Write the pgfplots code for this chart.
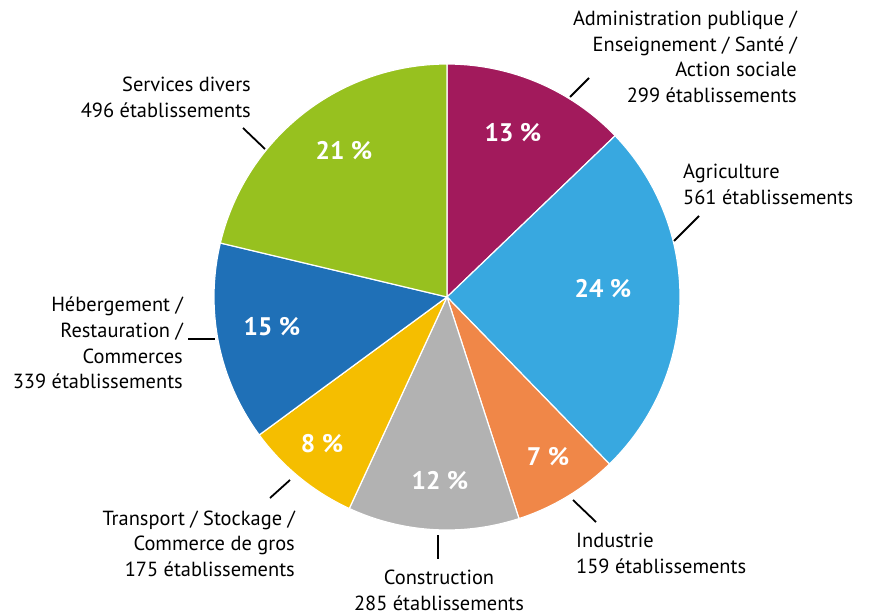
\documentclass[border=0pt]{standalone}
\usepackage{pgfplots}
\usepackage{pgfplotstable}
\pgfplotsset{compat=1.18}
\usepackage{fontspec}
\setmainfont{PT Sans}
\definecolor{cA}{RGB}{162,26,92}
\definecolor{cB}{RGB}{56,168,224}
\definecolor{cC}{RGB}{240,135,72}
\definecolor{cD}{RGB}{178,178,178}
\definecolor{cE}{RGB}{245,190,0}
\definecolor{cF}{RGB}{31,112,183}
\definecolor{cG}{RGB}{151,193,31}
% count = establishments (labels); share = slice size in degrees as drawn
\pgfplotstableread{
count share color
299 46.2 cA
561 89.6 cB
159 26.2 cC
285 42.8 cD
175 28.9 cE
339 49.7 cF
496 76.6 cG
}\piedata
\begin{document}
\begin{tikzpicture}
\begin{axis}[
  scale only axis, width=869bp, height=616bp,
  xmin=0, xmax=869, ymin=0, ymax=616, y dir=reverse,
  hide axis, clip=false,
]
\path (axis cs:0,0) rectangle (axis cs:869,616);
% total
\def\total{0}
\pgfplotsforeachungrouped \i in {0,...,6}{%
  \pgfplotstablegetelem{\i}{share}\of\piedata
  \pgfmathsetmacro\tmp{\total+\pgfplotsretval}%
  \global\let\total\tmp
}
\def\cum{0}
\pgfplotsforeachungrouped \i in {0,...,6}{%
  \pgfplotstablegetelem{\i}{share}\of\piedata \let\cnt\pgfplotsretval
  \pgfplotstablegetelem{\i}{color}\of\piedata \let\col\pgfplotsretval
  \pgfmathsetmacro\angA{90-360*(\cum/\total)}%
  \pgfmathsetmacro\cumnew{\cum+\cnt}%
  \pgfmathsetmacro\angB{90-360*(\cumnew/\total)}%
  \edef\doplot{\noexpand\addplot[fill=\col, draw=white, line width=1.2pt, line join=round, domain=\angB:\angA, samples=80, variable=\noexpand\t]
    ({447+233*cos(\noexpand\t)},{297-233*sin(\noexpand\t)}) -- (axis cs:447,297) -- cycle;}%
  \doplot
  \global\let\cum\cumnew
}
% leader lines
\begin{scope}[black, line width=1.8pt]
\draw (axis cs:570,97) -- (axis cs:589,78);
\draw (axis cs:674,241) -- (axis cs:699,216);
\draw (axis cs:573,500) -- (axis cs:596,522);
\draw (axis cs:438,535) -- (axis cs:438,559);
\draw (axis cs:270,498) -- (axis cs:290,480);
\draw (axis cs:188,339) -- (axis cs:215,339);
\draw (axis cs:243,128) -- (axis cs:265,149);
\end{scope}
% category labels
\begin{scope}[every node/.style={inner sep=0pt, font=\fontsize{20.5}{25.7}\selectfont}]
\node[anchor=east, align=right] at (axis cs:797,57) {Administration publique /\\Enseignement / Santé /\\Action sociale\\299 établissements};
\node[anchor=west, align=left] at (axis cs:683,184.5) {Agriculture\\561 établissements};
\node[anchor=west, align=left] at (axis cs:576,553.5) {Industrie\\159 établissements};
\node[anchor=center, align=center] at (axis cs:439,590.5) {Construction\\285 établissements};
\node[anchor=east, align=right] at (axis cs:295,543.5) {Transport / Stockage /\\Commerce de gros\\175 établissements};
\node[anchor=east, align=right] at (axis cs:183,343) {Hébergement /\\Restauration /\\Commerces\\339 établissements};
\node[anchor=east, align=right] at (axis cs:251,97.5) {Services divers\\496 établissements};
\end{scope}
% percentages
\begin{scope}[every node/.style={inner sep=0pt, text=white, font=\bfseries\fontsize{25.5}{30}\selectfont}]
\node at (axis cs:513,133) {13 \%};
\node at (axis cs:603,289) {24 \%};
\node at (axis cs:548,457) {7 \%};
\node at (axis cs:440,481) {12 \%};
\node at (axis cs:322,444) {8 \%};
\node at (axis cs:272,327) {15 \%};
\node at (axis cs:344,151) {21 \%};
\end{scope}
\end{axis}
\end{tikzpicture}
\end{document}
